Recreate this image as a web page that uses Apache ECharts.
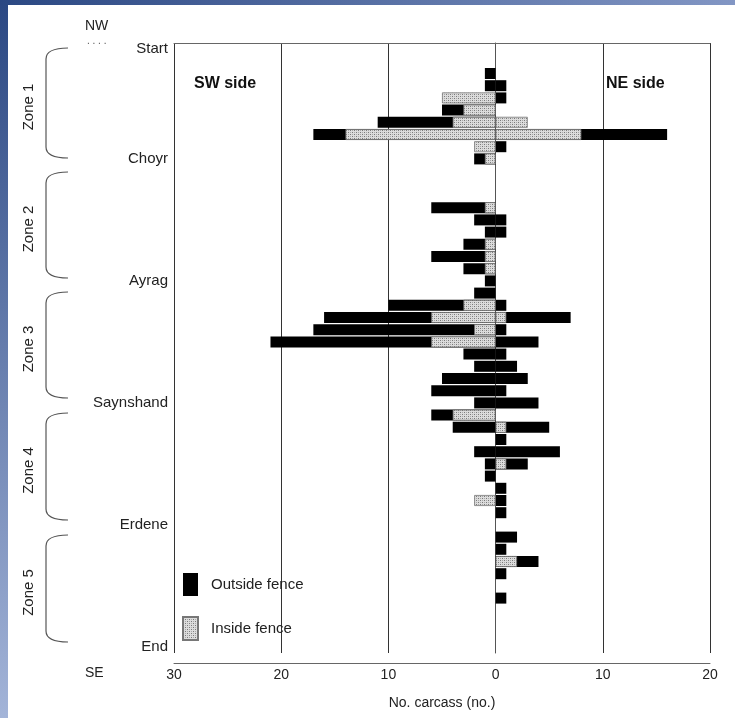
<!DOCTYPE html>
<html>
<head>
<meta charset="utf-8">
<script src="https://cdn.jsdelivr.net/npm/echarts@6/dist/echarts.min.js"></script>
<style>
html,body{margin:0;padding:0;background:#fff;}
#chart{width:735px;height:718px;}
</style>
</head>
<body>
<div id="chart"></div>
<script>
// Row labels along the route (top = NW start, bottom = SE end), 50 rows
const rowLabels = ['Start','','','','','','','','','Choyr',
  '','','','','','','','','','Ayrag',
  '','','','','','','','','','Saynshand',
  '','','','','','','','','','Erdene',
  '','','','','','','','','','End'];

// Outside fence carcasses, SW side (negative) and NE side (positive)
const outsideSW = [null,null,-1,-1,null,-5,-11,-17,null,-2,
  null,null,null,-6,-2,-1,-3,-6,-3,-1,
  -2,-10,-16,-17,-21,-3,-2,-5,-6,-2,
  -6,-4,null,-2,-1,-1,null,null,null,null,
  null,null,null,null,null,null,null,null,null,null];
const outsideNE = [null,null,null,1,1,null,null,16,1,null,
  null,null,null,null,1,1,null,null,null,null,
  null,1,7,1,4,1,2,3,1,4,
  null,5,1,6,3,null,1,1,1,null,
  2,1,4,1,null,1,null,null,null,null];
// Inside fence carcasses
const insideSW = [null,null,null,null,-5,-3,-4,-14,-2,-1,
  null,null,null,-1,null,null,-1,-1,-1,null,
  null,-3,-6,-2,-6,null,null,null,null,null,
  -4,null,null,null,null,null,null,-2,null,null,
  null,null,null,null,null,null,null,null,null,null];
const insideNE = [null,null,null,null,null,null,3,8,null,null,
  null,null,null,null,null,null,null,null,null,null,
  null,null,1,null,null,null,null,null,null,null,
  null,1,null,null,1,null,null,null,null,null,
  null,null,2,null,null,null,null,null,null,null];

const xTicks = {min:-30, max:20, interval:10};
const zones = [
  {name:'Zone 1', top:48, bottom:158},
  {name:'Zone 2', top:172, bottom:278},
  {name:'Zone 3', top:292, bottom:398},
  {name:'Zone 4', top:413, bottom:520},
  {name:'Zone 5', top:535, bottom:642}
];

// dotted grey texture for inside fence
const pc = document.createElement('canvas');
pc.width = 4; pc.height = 4;
const pctx = pc.getContext('2d');
pctx.fillStyle = '#dcdcdc'; pctx.fillRect(0,0,4,4);
pctx.fillStyle = '#7a7a7a'; pctx.fillRect(0,0,1,1); pctx.fillRect(2,2,1,1);
pctx.fillStyle = '#a8a8a8'; pctx.fillRect(2,0,1,1); pctx.fillRect(0,2,1,1);
const pattern = {image: pc, repeat: 'repeat'};

const FONT = 'Liberation Sans';
const chart = echarts.init(document.getElementById('chart'));

const graphics = [
  {type:'rect', left:0, top:0, shape:{width:8, height:718}, silent:true,
   style:{fill:new echarts.graphic.LinearGradient(0,0,0,1,[{offset:0,color:'#2b4883'},{offset:1,color:'#a3b4d8'}])}},
  {type:'rect', left:0, top:0, shape:{width:735, height:5}, silent:true,
   style:{fill:new echarts.graphic.LinearGradient(0,0,1,0,[{offset:0,color:'#2b4883'},{offset:1,color:'#8296c4'}])}},
  {type:'text', x:194, y:84, z:10, style:{text:'SW side', font:'bold 16px "Liberation Sans"', fill:'#111', verticalAlign:'middle'}},
  {type:'text', x:606, y:84, z:10, style:{text:'NE side', font:'bold 16px "Liberation Sans"', fill:'#111', verticalAlign:'middle'}},
  {type:'text', x:85, y:26, style:{text:'NW', font:'14px "Liberation Sans"', fill:'#222', verticalAlign:'middle'}},
  {type:'text', x:87, y:41, style:{text:'. . . .', font:'10px "Liberation Sans"', fill:'#555', verticalAlign:'middle'}},
  {type:'text', x:85, y:673, style:{text:'SE', font:'14px "Liberation Sans"', fill:'#222', verticalAlign:'middle'}}
];
zones.forEach(z => {
  const a = z.top, b = z.bottom;
  const st = {stroke:'#555', lineWidth:1.2, fill:null};
  graphics.push({type:'bezierCurve', silent:true,
    shape:{x1:68, y1:a, cpx1:56, cpy1:a, cpx2:46, cpy2:a+2, x2:46, y2:a+11}, style:st});
  graphics.push({type:'line', silent:true,
    shape:{x1:46, y1:a+11, x2:46, y2:b-11}, style:st});
  graphics.push({type:'bezierCurve', silent:true,
    shape:{x1:46, y1:b-11, cpx1:46, cpy1:b-2, cpx2:56, cpy2:b, x2:68, y2:b}, style:st});
  graphics.push({type:'text', x:29, y:(a+b)/2 + 4, rotation:Math.PI/2,
    style:{text:z.name, font:'15px "Liberation Sans"', fill:'#222', align:'center', verticalAlign:'middle'}});
});

const barCommon = {type:'bar', barWidth:11, barGap:'-100%', xAxisIndex:0, yAxisIndex:0};

chart.setOption({
  animation:false,
  backgroundColor:'#ffffff',
  grid:{left:174, right:25, top:43, height:610, containLabel:false},
  legend:{
    data:['Outside fence','Inside fence'], orient:'vertical', left:177, top:568,
    itemWidth:15, itemHeight:23, itemGap:20, icon:'rect',
    textStyle:{fontFamily:FONT, fontSize:15, color:'#222', padding:[0,0,0,8]}
  },
  xAxis:[{
    type:'value', min:xTicks.min, max:xTicks.max, interval:xTicks.interval, position:'bottom', offset:10,
    axisLine:{show:true, lineStyle:{color:'#666', width:1}},
    axisTick:{show:false},
    axisLabel:{fontFamily:FONT, fontSize:14, color:'#222', margin:5, formatter:v => String(Math.abs(v))},
    splitLine:{show:true, lineStyle:{color:'#333', width:1}},
    name:'No. carcass (no.)', nameLocation:'middle', nameGap:33,
    nameTextStyle:{fontFamily:FONT, fontSize:14, color:'#222'}
  },{
    type:'value', min:xTicks.min, max:xTicks.max, interval:xTicks.interval, position:'top',
    axisLine:{show:true, lineStyle:{color:'#666', width:1}},
    axisTick:{show:false}, axisLabel:{show:false}, splitLine:{show:false}
  }],
  yAxis:{
    type:'category', data:rowLabels, inverse:true,
    axisLine:{show:true, lineStyle:{color:'#555', width:1}},
    axisTick:{show:false},
    axisLabel:{interval:0, fontFamily:FONT, fontSize:15, color:'#222', margin:6},
    splitLine:{show:false}
  },
  series:[
    Object.assign({name:'Outside fence', data:outsideSW, itemStyle:{color:'#000'}}, barCommon),
    Object.assign({name:'Outside fence', data:outsideNE, itemStyle:{color:'#000'}}, barCommon),
    Object.assign({name:'Inside fence', data:insideSW, itemStyle:{color:pattern, borderColor:'#777', borderWidth:0.8}}, barCommon),
    Object.assign({name:'Inside fence', data:insideNE, itemStyle:{color:pattern, borderColor:'#777', borderWidth:0.8}}, barCommon)
  ],
  graphic:graphics
});
</script>
</body>
</html>
